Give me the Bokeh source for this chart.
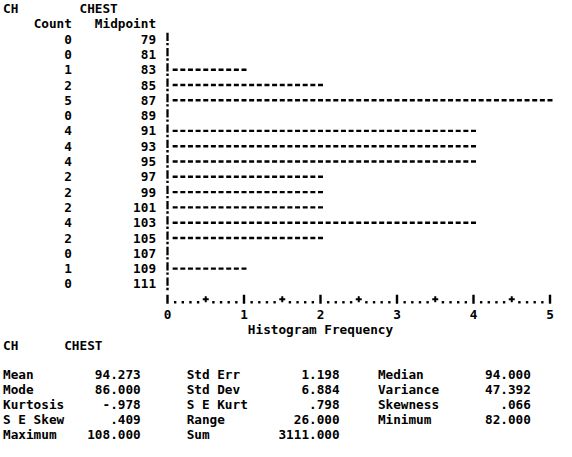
from bokeh.plotting import figure
from bokeh.models import Range1d, ColumnDataSource
from bokeh.core.properties import value
from bokeh.embed import file_html
from bokeh.resources import INLINE

# ---------------- data ----------------
variable_name = "CH"
variable_label = "CHEST"
count_header = "Count"
midpoint_header = "Midpoint"
midpoints = [79, 81, 83, 85, 87, 89, 91, 93, 95, 97, 99, 101, 103, 105, 107, 109, 111]
counts = [0, 0, 1, 2, 5, 0, 4, 4, 4, 2, 2, 2, 4, 2, 0, 1, 0]
freq_ticks = [0, 1, 2, 3, 4, 5]
axis_title = "Histogram Frequency"

stat_names_1 = ["Mean", "Mode", "Kurtosis", "S E Skew", "Maximum"]
stat_values_1 = [94.273, 86.000, -0.978, 0.409, 108.000]
stat_names_2 = ["Std Err", "Std Dev", "S E Kurt", "Range", "Sum"]
stat_values_2 = [1.198, 6.884, 0.798, 26.000, 3111.000]
stat_names_3 = ["Median", "Variance", "Skewness", "Minimum"]
stat_values_3 = [94.000, 47.392, 0.066, 82.000]

# ---------------- layout (line-printer grid) ----------------
W, H = 556, 441
PITCH = 7.65                # character pitch in px (= 0.1 frequency unit)
X0_PAGE = 175.0             # page x of frequency 0 (the "!" column)
PX_PER_UNIT = PITCH * 10
X_LEFT = X0_PAGE - 21.5 * PITCH   # page x of column 0
LINE_PX, LINE0_PAGE = 15.3, 16.0

def px_x(page_x):
    return (page_x - X0_PAGE) / PX_PER_UNIT

def col_left(c):
    return px_x(X_LEFT + c * PITCH)

def col_right(c):
    return px_x(X_LEFT + (c + 1) * PITCH)

def line_y(page_y):
    return (page_y - LINE0_PAGE) / LINE_PX

def spss(v):
    s = f"{v:.3f}"
    if s.startswith("0."):
        s = s[1:]
    elif s.startswith("-0."):
        s = "-" + s[2:]
    return s

FONT = value("DejaVu Sans Mono")
FS = f"{PITCH / 0.602:.2f}px"

p = figure(width=W, height=H, output_backend="svg", toolbar_location=None,
           x_range=Range1d(px_x(8), px_x(8 + W)),
           y_range=Range1d(line_y(8 + H), line_y(8)),
           min_border=0)
p.axis.visible = False
p.grid.visible = False
p.outline_line_color = None
p.background_fill_color = "white"

def txt(x, y, t, align="left"):
    src = ColumnDataSource(dict(x=x, y=y, t=t))
    p.text("x", "y", text="t", source=src, text_font=FONT, text_font_size=FS,
           text_font_style="bold", text_align=align, text_baseline="middle",
           text_color="black")

# header lines
txt([col_left(0)], [0], [variable_name])
txt([col_left(10)], [0], [variable_label])
txt([col_right(8)], [1], [count_header], "right")
txt([col_right(19)], [1], [midpoint_header], "right")

rows = [2 + i for i in range(len(midpoints))]
txt([col_right(8)] * len(counts), rows, [str(c) for c in counts], "right")
txt([col_right(19)] * len(midpoints), rows, [str(m) for m in midpoints], "right")

# vertical "!" column: a bar and a dot on every histogram row
p.segment(x0=[0] * len(rows), y0=[r - 0.42 for r in rows],
          x1=[0] * len(rows), y1=[r + 0.12 for r in rows],
          line_color="black", line_width=2.3)
p.scatter([0] * len(rows), [r + 0.33 for r in rows], marker="square", size=2.4,
          color="black", line_color=None)

# bars drawn as rows of dashes, one dash per 0.1 frequency unit
half_dash = 2.5 / PX_PER_UNIT
dx0, dx1, dy = [], [], []
for r, c in zip(rows, counts):
    for k in range(1, c * 10 + 1):
        dx0.append(k / 10 - half_dash)
        dx1.append(k / 10 + half_dash)
        dy.append(r)
p.segment(x0=dx0, y0=dy, x1=dx1, y1=dy, line_color="black", line_width=2.4)

# axis row of characters: I....+....I
axis_line = rows[-1] + 1
tenth = [i / 10 for i in range(0, freq_ticks[-1] * 10 + 1)]
dots = [t for t in tenth if abs(t * 2 - round(t * 2)) > 1e-9]
halves = [t for t in tenth if abs(t * 2 - round(t * 2)) < 1e-9 and abs(t - round(t)) > 1e-9]
p.scatter(dots, [axis_line + 0.2] * len(dots), marker="square", size=2.4,
          color="black", line_color=None)
p.scatter(halves, [axis_line] * len(halves), marker="cross", size=6,
          line_color="black", line_width=2)
p.scatter(freq_ticks, [axis_line] * len(freq_ticks), marker="dash", angle=1.5708,
          size=9, line_color="black", line_width=2.4)

# tick labels and title
txt(freq_ticks, [axis_line + 1] * len(freq_ticks), [str(t) for t in freq_ticks], "center")
txt([2.0], [axis_line + 2], [axis_title], "center")

# statistics block
cap_line = axis_line + 3
txt([col_left(0)], [cap_line], [variable_name])
txt([col_left(8)], [cap_line], [variable_label])

stat0 = cap_line + 1.95
stat_step = 0.98

def col(names, vals, lcol, vcol):
    ys = [stat0 + i * stat_step for i in range(len(names))]
    txt([col_left(lcol)] * len(names), ys, names)
    txt([col_right(vcol)] * len(vals), ys, [spss(v) for v in vals], "right")

col(stat_names_1, stat_values_1, 0, 17)
col(stat_names_2, stat_values_2, 24, 43)
col(stat_names_3, stat_values_3, 49, 68)

open("out.html", "w").write(file_html(p, INLINE))
